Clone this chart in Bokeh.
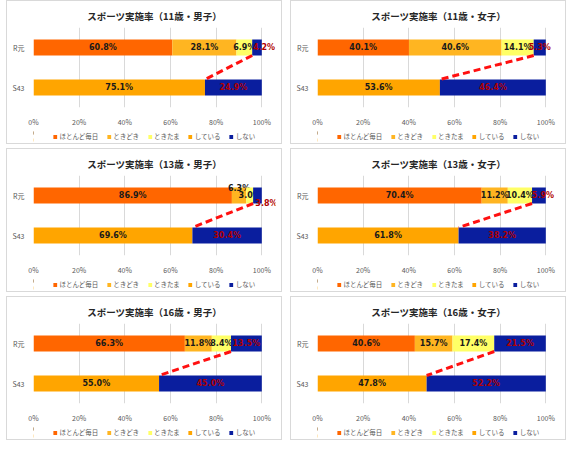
from bokeh.plotting import figure
from bokeh.models import ColumnDataSource, Legend, LegendItem, FixedTicker, Range1d, PrintfTickFormatter, Spacer
from bokeh.layouts import row, column
from bokeh.embed import file_html
from bokeh.resources import INLINE
from bokeh.core.properties import value

# ---------------- data ----------------
titles = ["スポーツ実施率（11歳・男子）", "スポーツ実施率（11歳・女子）",
          "スポーツ実施率（13歳・男子）", "スポーツ実施率（13歳・女子）",
          "スポーツ実施率（16歳・男子）", "スポーツ実施率（16歳・女子）"]
periods = ["S43", "R元"]
series_names = ["ほとんど毎日", "ときどき", "ときたま", "している", "しない"]
x_ticks = [0, 20, 40, 60, 80, 100]

# R元 (recent) breakdown, % as labelled
r_hotondo = [60.8, 40.1, 86.9, 70.4, 66.3, 40.6]
r_tokidoki = [28.1, 40.6, 6.3, 11.2, 11.8, 15.7]
r_tokitama = [6.9, 14.1, 3.0, 10.4, 8.4, 17.4]
r_shinai = [4.2, 5.3, 3.8, 5.9, 13.5, 21.5]
# S43 (1968) breakdown, % as labelled
s_shiteiru = [75.1, 53.6, 69.6, 61.8, 55.0, 47.8]
s_shinai = [24.9, 46.4, 30.4, 38.2, 45.0, 52.2]

# ---------------- style ----------------
colors = {"ほとんど毎日": "#FF6600", "ときどき": "#FFB521", "ときたま": "#FFFF66",
          "している": "#FFA500", "しない": "#0A1E9E"}
JP = "Noto Sans CJK JP"
# manual label nudges (panel index, series) -> (dx px, dy px)
nudges = {(0, "R_しない"): (7, 0), (2, "R_ときどき"): (0, -7), (2, "R_しない"): (9, 8),
          (3, "R_しない"): (4, 0)}

Y_POS = {"S43": 1, "R元": 3}
BAR_H = 0.8
W, H_CHART, H_LEG = 274, 128, 14


def make_panel(i):
    # frame runs a little past 100% so labels beside the bar ends stay visible
    p = figure(width=W, height=H_CHART, output_backend="svg", toolbar_location=None,
               x_range=Range1d(0, 106), y_range=Range1d(0, 4),
               min_border_left=26, min_border_right=6, min_border_top=2, min_border_bottom=0)
    p.title.text = titles[i]
    p.title.align = "center"
    p.title.text_font = JP
    p.title.text_font_size = "9.5px"
    p.title.text_font_style = "bold"
    p.title.text_color = "#262626"
    p.outline_line_color = None

    # separate strip that carries the legend (its glyph copies lie outside its x range)
    lg = figure(width=W, height=H_LEG, output_backend="svg", toolbar_location=None,
                x_range=Range1d(200, 300), y_range=Range1d(0, 4),
                min_border_left=26, min_border_right=6, min_border_top=0, min_border_bottom=0)
    lg.axis.visible = False
    lg.grid.visible = False
    lg.outline_line_color = None

    r_vals = [("ほとんど毎日", r_hotondo[i]), ("ときどき", r_tokidoki[i]),
              ("ときたま", r_tokitama[i]), ("しない", r_shinai[i])]
    s_vals = [("している", s_shiteiru[i]), ("しない", s_shinai[i])]

    leg_renderers = {}
    blue_start = {}
    for period, vals in (("R元", r_vals), ("S43", s_vals)):
        total = sum(v for _, v in vals)
        cum = 0.0
        for name, v in vals:
            left = cum / total * 100
            cum += v
            right = cum / total * 100
            key = ("R_" if period == "R元" else "S_") + name
            dx, dy = nudges.get((i, key), (0, 0))
            src = ColumnDataSource(dict(y=[Y_POS[period]], left=[left], right=[right],
                                        xc=[(left + right) / 2], label=[f"{v:.1f}%"]))
            p.hbar(y="y", left="left", right="right", height=BAR_H, source=src,
                   fill_color=colors[name], line_color=None)
            if name not in leg_renderers:
                leg_renderers[name] = lg.hbar(y="y", left="left", right="right", height=BAR_H,
                                              source=src, fill_color=colors[name], line_color=None)
            if name == "しない":
                blue_start[period] = left
            p.text(x="xc", y="y", text="label", source=src, x_offset=dx, y_offset=dy,
                   text_align="center", text_baseline="middle",
                   text_font=value("DejaVu Sans"), text_font_size="8px",
                   text_font_style="bold",
                   text_color="#B00000" if name == "しない" else "#1A1A1A")

    seg = ColumnDataSource(dict(x0=[blue_start["R元"]], y0=[Y_POS["R元"] - BAR_H / 2],
                                x1=[blue_start["S43"]], y1=[Y_POS["S43"] + BAR_H / 2]))
    p.segment(x0="x0", y0="y0", x1="x1", y1="y1", source=seg,
              line_color="#FF1010", line_width=3, line_dash="7 4")

    p.xaxis.ticker = FixedTicker(ticks=x_ticks)
    p.xaxis.formatter = PrintfTickFormatter(format="%d%%")
    p.xgrid.ticker = FixedTicker(ticks=x_ticks)
    p.xgrid.grid_line_color = "#D9D9D9"
    p.ygrid.grid_line_color = None
    p.yaxis.ticker = FixedTicker(ticks=[Y_POS["S43"], Y_POS["R元"]])
    p.yaxis.major_label_overrides = {Y_POS[k]: k for k in periods}
    for ax in (p.xaxis, p.yaxis):
        ax.axis_line_color = None
        ax.major_tick_line_color = None
        ax.minor_tick_line_color = None
        ax.major_label_text_font = JP
        ax.major_label_text_font_size = "7px"
        ax.major_label_text_color = "#595959"
        ax.major_label_standoff = 3

    items = [LegendItem(label=n, renderers=[leg_renderers[n]]) for n in series_names]
    leg = Legend(items=items, orientation="horizontal", location="center",
                 label_text_font=JP, label_text_font_size="6.5px", label_text_color="#595959",
                 glyph_width=5, glyph_height=5, label_height=8, label_standoff=2,
                 spacing=8, padding=0, margin=0, border_line_color=None,
                 background_fill_alpha=0)
    lg.add_layout(leg)
    return column(p, lg, spacing=0, styles={"border": "1px solid #D9D9D9"})


panels = [make_panel(i) for i in range(6)]
grid = column(row(panels[0], panels[1], spacing=8),
              row(panels[2], panels[3], spacing=8),
              row(panels[4], panels[5], spacing=8), spacing=4)
layout = row(Spacer(width=6, height=10), grid)

open("out.html", "w").write(file_html(layout, INLINE))
